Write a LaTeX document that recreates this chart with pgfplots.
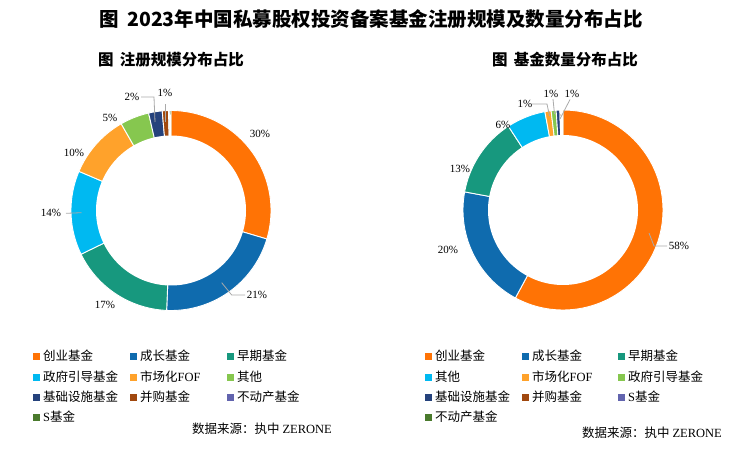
\documentclass[border=0pt]{standalone}
\usepackage{pgfplots}
\usepackage{pgfplotstable}
\pgfplotsset{compat=1.18}
\usepackage{fontspec}
\setmainfont{Noto Sans CJK SC}
\newfontfamily\serif{Liberation Serif}
\definecolor{c1}{RGB}{255,115,5}
\definecolor{c2}{RGB}{15,107,174}
\definecolor{c3}{RGB}{23,152,126}
\definecolor{c4}{RGB}{0,185,241}
\definecolor{c5}{RGB}{255,162,43}
\definecolor{c6}{RGB}{134,199,79}
\definecolor{c7}{RGB}{37,66,124}
\definecolor{c8}{RGB}{160,72,14}
\definecolor{c9}{RGB}{98,100,174}
\definecolor{c10}{RGB}{74,122,45}
\definecolor{leader}{RGB}{170,170,170}

% registered scale share (%), clockwise from 12 o'clock
\pgfplotstableread{
value color
29.6 c1
21.1 c2
17.1 c3
13.6 c4
10.3 c5
4.7  c6
2.2  c7
1.0  c8
0.2  c9
0.2  c10
}\scaledata
% fund count share (%)
\pgfplotstableread{
value color
57.9 c1
20.0 c2
12.9 c3
6.3  c4
1.0  c5
0.8  c6
0.6  c7
0.2  c8
0.2  c9
0.1  c10
}\countdata

\newcommand\donut[1]{%
  \pgfplotstablegetrowsof{#1}%
  \pgfmathtruncatemacro\N{\pgfplotsretval-1}%
  \gdef\cum{0}%
  \foreach \i in {0,...,\N}{%
    \pgfplotstablegetelem{\i}{value}\of#1\let\v\pgfplotsretval
    \pgfplotstablegetelem{\i}{color}\of#1\let\c\pgfplotsretval
    \pgfmathsetmacro\a{90-3.6*\cum}%
    \pgfmathsetmacro\b{90-3.6*(\cum+\v)}%
    \edef\tmp{\noexpand\addplot[fill=\c, draw=white, line width=0.9bp, domain=\b:\a, samples=80] ({cos(x)},{sin(x)}) -- (axis cs:0,0) -- cycle;}%
    \tmp
    \pgfmathsetmacro\nc{\cum+\v}%
    \xdef\cum{\nc}%
  }%
  \addplot[fill=white, draw=none, domain=0:360, samples=180] ({0.75*cos(x)},{0.75*sin(x)});
}

\newcommand\legfont{\fontsize{12.5bp}{14bp}\selectfont}
\newcommand\pctfont{\serif\fontsize{11bp}{12bp}\selectfont}
\newcommand\li[4]{%
  \fill[#3] (#1,#2-3.5) rectangle ++(7,7);
  \node[anchor=west, inner sep=0pt, font=\legfont] at (#1+10,#2) {#4};
}

\begin{document}
\begin{tikzpicture}
\path[use as bounding box] (0,0) rectangle (750bp,-450bp);

\begin{axis}[at={(171bp,-210.5bp)}, anchor=center, width=240bp, height=240bp,
  scale only axis, hide axis, xmin=-1.2, xmax=1.2, ymin=-1.2, ymax=1.2, clip=false]
\donut{\scaledata}
\end{axis}

\begin{axis}[at={(563bp,-210bp)}, anchor=center, width=240bp, height=240bp,
  scale only axis, hide axis, xmin=-1.2, xmax=1.2, ymin=-1.2, ymax=1.2, clip=false]
\donut{\countdata}
\end{axis}

\begin{scope}[x=1bp, y=-1bp]
% titles
\node[font=\bfseries\fontsize{19.5bp}{22bp}\selectfont] at (371,19) {图\hspace{0.45em}2023年中国私募股权投资备案基金注册规模及数量分布占比};
\node[font=\bfseries\fontsize{15.5bp}{18bp}\selectfont] at (171,60) {图\hspace{0.4em}注册规模分布占比};
\node[font=\bfseries\fontsize{15.5bp}{18bp}\selectfont] at (565,60) {图\hspace{0.4em}基金数量分布占比};

% left labels
\node[font=\pctfont] at (260,134) {30\%};
\node[font=\pctfont] at (257,295) {21\%};
\node[font=\pctfont] at (105,305) {17\%};
\node[font=\pctfont] at (51,213) {14\%};
\node[font=\pctfont] at (74,153) {10\%};
\node[font=\pctfont] at (110,118) {5\%};
\node[font=\pctfont] at (132,97) {2\%};
\node[font=\pctfont] at (165,93) {1\%};
\draw[leader, line width=0.8bp] (221.7,282.7) -- (231.7,295) -- (245,295);
\draw[leader, line width=0.8bp] (66,213.3) -- (81.5,212.7);
\draw[leader, line width=0.8bp] (141,97) -- (154,97) -- (155,122);
\draw[leader, line width=0.8bp] (165.7,104) -- (165.7,122);

% right labels
\node[font=\pctfont] at (679,246) {58\%};
\node[font=\pctfont] at (448,250) {20\%};
\node[font=\pctfont] at (460,169) {13\%};
\node[font=\pctfont] at (503,125) {6\%};
\node[font=\pctfont] at (525,104) {1\%};
\node[font=\pctfont] at (551,94) {1\%};
\node[font=\pctfont] at (572,94) {1\%};
\draw[leader, line width=0.8bp] (649,233) -- (654,246) -- (667,246);
\draw[leader, line width=0.8bp] (532,104) -- (547,104) -- (549.5,116);
\draw[leader, line width=0.8bp] (553,99) -- (554.5,114);
\draw[leader, line width=0.8bp] (570,99.5) -- (560,119);

% left legend
\li{33}{356}{c1}{创业基金}
\li{130}{356}{c2}{成长基金}
\li{227}{356}{c3}{早期基金}
\li{33}{377}{c4}{政府引导基金}
\li{130}{377}{c5}{市场化{\serif FOF}}
\li{227}{377}{c6}{其他}
\li{33}{397}{c7}{基础设施基金}
\li{130}{397}{c8}{并购基金}
\li{227}{397}{c9}{不动产基金}
\li{33}{417}{c10}{{\serif S}基金}
\node[font=\legfont] at (262,429) {数据来源：执中 {\serif ZERONE}};

% right legend
\li{425}{356}{c1}{创业基金}
\li{522}{356}{c2}{成长基金}
\li{618}{356}{c3}{早期基金}
\li{425}{377}{c4}{其他}
\li{522}{377}{c5}{市场化{\serif FOF}}
\li{618}{377}{c6}{政府引导基金}
\li{425}{397}{c7}{基础设施基金}
\li{522}{397}{c8}{并购基金}
\li{618}{397}{c9}{{\serif S}基金}
\li{425}{417}{c10}{不动产基金}
\node[font=\legfont] at (652,433) {数据来源：执中 {\serif ZERONE}};
\end{scope}
\end{tikzpicture}
\end{document}
